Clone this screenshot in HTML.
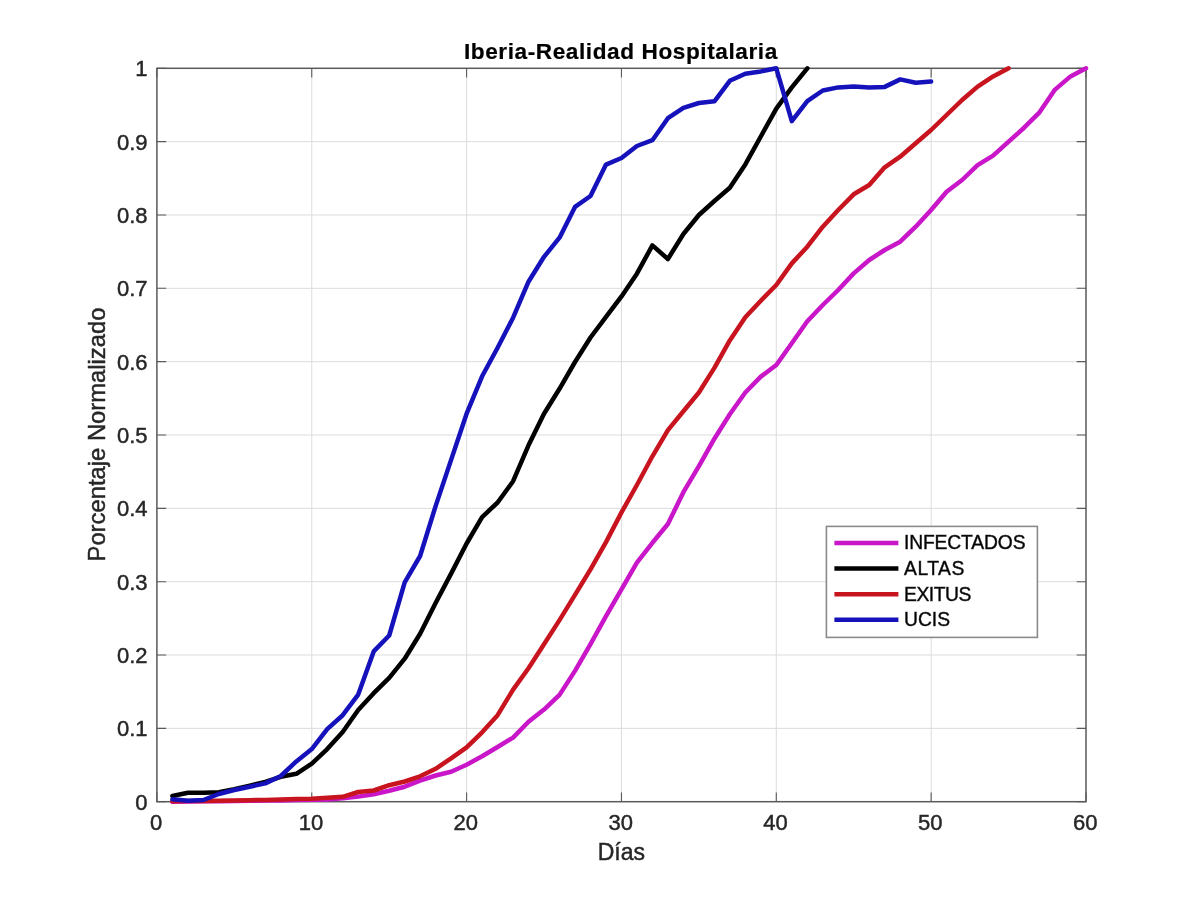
<!DOCTYPE html>
<html><head><meta charset="utf-8"><style>
html,body{margin:0;padding:0;background:#fff;}
body{width:1200px;height:899px;overflow:hidden;}
svg{display:block;will-change:transform;}
text{font-family:"Liberation Sans",sans-serif;fill:#262626;stroke:#262626;stroke-width:0.45px;}
</style></head><body>
<svg width="1200" height="899" viewBox="0 0 1200 899">
<rect x="0" y="0" width="1200" height="899" fill="#fff"/>
<path d="M311.75 68.30V801.70M466.60 68.30V801.70M621.45 68.30V801.70M776.30 68.30V801.70M931.15 68.30V801.70M156.90 728.36H1086.00M156.90 655.02H1086.00M156.90 581.68H1086.00M156.90 508.34H1086.00M156.90 435.00H1086.00M156.90 361.66H1086.00M156.90 288.32H1086.00M156.90 214.98H1086.00M156.90 141.64H1086.00" stroke="#dcdcdc" stroke-width="1" fill="none"/>
<rect x="156.90" y="68.30" width="929.10" height="733.40" fill="none" stroke="#5a5a5a" stroke-width="1.5"/>
<path d="M156.90 801.70V792.40M156.90 68.30V77.60M311.75 801.70V792.40M311.75 68.30V77.60M466.60 801.70V792.40M466.60 68.30V77.60M621.45 801.70V792.40M621.45 68.30V77.60M776.30 801.70V792.40M776.30 68.30V77.60M931.15 801.70V792.40M931.15 68.30V77.60M1086.00 801.70V792.40M1086.00 68.30V77.60M156.90 801.70H166.20M1086.00 801.70H1076.70M156.90 728.36H166.20M1086.00 728.36H1076.70M156.90 655.02H166.20M1086.00 655.02H1076.70M156.90 581.68H166.20M1086.00 581.68H1076.70M156.90 508.34H166.20M1086.00 508.34H1076.70M156.90 435.00H166.20M1086.00 435.00H1076.70M156.90 361.66H166.20M1086.00 361.66H1076.70M156.90 288.32H166.20M1086.00 288.32H1076.70M156.90 214.98H166.20M1086.00 214.98H1076.70M156.90 141.64H166.20M1086.00 141.64H1076.70M156.90 68.30H166.20M1086.00 68.30H1076.70" stroke="#5a5a5a" stroke-width="1.1" fill="none"/>
<polyline points="172.4,801.7 187.9,801.5 203.4,801.3 218.8,801.2 234.3,801.0 249.8,800.8 265.3,800.6 280.8,800.4 296.3,800.1 311.8,799.8 327.2,799.5 342.7,798.3 358.2,796.6 373.7,794.2 389.2,790.8 404.7,786.7 420.1,780.7 435.6,775.5 451.1,771.8 466.6,764.7 482.1,756.3 497.6,747.0 513.1,737.6 528.5,721.8 544.0,709.6 559.5,694.9 575.0,670.9 590.5,644.2 606.0,616.1 621.5,589.4 636.9,562.6 652.4,542.8 667.9,524.0 683.4,492.2 698.9,466.2 714.4,438.7 729.8,414.2 745.3,392.5 760.8,376.6 776.3,365.0 791.8,343.3 807.3,321.3 822.8,305.0 838.2,290.0 853.7,273.4 869.2,260.0 884.7,250.0 900.2,241.7 915.7,226.7 931.1,210.0 946.6,191.7 962.1,180.0 977.6,165.1 993.1,155.6 1008.6,141.6 1024.1,127.7 1039.5,112.3 1055.0,89.6 1070.5,76.4 1086.0,68.3" fill="none" stroke="#c816c8" stroke-width="4.5" stroke-linejoin="round" stroke-linecap="round"/>
<polyline points="172.4,796.0 187.9,792.7 203.4,792.7 218.8,792.2 234.3,789.2 249.8,785.6 265.3,781.9 280.8,776.8 296.3,773.8 311.8,763.6 327.2,749.1 342.7,732.0 358.2,710.0 373.7,693.2 389.2,677.8 404.7,658.7 420.1,633.8 435.6,602.9 451.1,573.6 466.6,543.5 482.1,517.1 497.6,502.5 513.1,481.2 528.5,445.3 544.0,413.7 559.5,388.8 575.0,362.0 590.5,337.5 606.0,316.9 621.5,296.4 636.9,273.7 652.4,245.4 667.9,259.0 683.4,234.0 698.9,215.0 714.4,201.0 729.8,187.8 745.3,164.4 760.8,136.5 776.3,108.6 791.8,87.4 807.3,68.3" fill="none" stroke="#000000" stroke-width="4.5" stroke-linejoin="round" stroke-linecap="round"/>
<polyline points="172.4,801.3 187.9,801.1 203.4,801.0 218.8,800.8 234.3,800.6 249.8,800.2 265.3,799.9 280.8,799.5 296.3,799.1 311.8,798.8 327.2,797.7 342.7,796.8 358.2,792.0 373.7,790.5 389.2,785.2 404.7,781.5 420.1,776.3 435.6,768.8 451.1,758.3 466.6,747.3 482.1,732.3 497.6,715.2 513.1,689.6 528.5,668.2 544.0,644.2 559.5,620.1 575.0,594.9 590.5,569.4 606.0,542.1 621.5,512.4 636.9,485.0 652.4,456.3 667.9,430.1 683.4,411.3 698.9,392.5 714.4,367.9 729.8,340.4 745.3,317.3 760.8,300.8 776.3,285.0 791.8,263.4 807.3,246.7 822.8,226.7 838.2,210.0 853.7,194.3 869.2,185.0 884.7,167.3 900.2,156.7 915.7,143.3 931.1,130.0 946.6,115.0 962.1,100.0 977.6,86.6 993.1,76.4 1008.6,68.3" fill="none" stroke="#c8141e" stroke-width="4.5" stroke-linejoin="round" stroke-linecap="round"/>
<polyline points="172.4,799.3 187.9,800.7 203.4,800.0 218.8,794.0 234.3,790.0 249.8,786.7 265.3,783.4 280.8,776.0 296.3,761.4 311.8,749.1 327.2,729.1 342.7,715.2 358.2,694.6 373.7,651.4 389.2,635.5 404.7,582.4 420.1,556.0 435.6,506.1 451.1,459.9 466.6,413.7 482.1,376.3 497.6,347.7 513.1,317.7 528.5,281.7 544.0,256.8 559.5,237.7 575.0,206.9 590.5,196.0 606.0,164.6 621.5,158.0 636.9,146.0 652.4,140.2 667.9,118.2 683.4,107.9 698.9,103.0 714.4,101.3 729.8,80.8 745.3,73.7 760.8,71.4 776.3,68.3 791.8,121.1 807.3,101.1 822.8,90.5 838.2,87.4 853.7,86.6 869.2,87.6 884.7,86.9 900.2,79.4 915.7,82.7 931.1,81.5" fill="none" stroke="#1512bb" stroke-width="4.5" stroke-linejoin="round" stroke-linecap="round"/>
<text x="156.10" y="830.4" font-size="22" text-anchor="middle">0</text>
<text x="310.95" y="830.4" font-size="22" text-anchor="middle">10</text>
<text x="465.80" y="830.4" font-size="22" text-anchor="middle">20</text>
<text x="620.65" y="830.4" font-size="22" text-anchor="middle">30</text>
<text x="775.50" y="830.4" font-size="22" text-anchor="middle">40</text>
<text x="930.35" y="830.4" font-size="22" text-anchor="middle">50</text>
<text x="1085.20" y="830.4" font-size="22" text-anchor="middle">60</text>
<text x="147.6" y="809.70" font-size="22" text-anchor="end">0</text>
<text x="147.6" y="736.36" font-size="22" text-anchor="end">0.1</text>
<text x="147.6" y="663.02" font-size="22" text-anchor="end">0.2</text>
<text x="147.6" y="589.68" font-size="22" text-anchor="end">0.3</text>
<text x="147.6" y="516.34" font-size="22" text-anchor="end">0.4</text>
<text x="147.6" y="443.00" font-size="22" text-anchor="end">0.5</text>
<text x="147.6" y="369.66" font-size="22" text-anchor="end">0.6</text>
<text x="147.6" y="296.32" font-size="22" text-anchor="end">0.7</text>
<text x="147.6" y="222.98" font-size="22" text-anchor="end">0.8</text>
<text x="147.6" y="149.64" font-size="22" text-anchor="end">0.9</text>
<text x="147.6" y="76.30" font-size="22" text-anchor="end">1</text>
<text x="621.4" y="859.6" font-size="23" text-anchor="middle">D&#237;as</text>
<text transform="translate(104.6 434.5) rotate(-90)" x="0" y="0" font-size="23.8" text-anchor="middle">Porcentaje Normalizado</text>
<text x="620.6" y="59.2" font-size="22.6" font-weight="bold" text-anchor="middle" textLength="313.4" lengthAdjust="spacing" style="fill:#000;stroke:#000;stroke-width:0.2px">Iberia-Realidad Hospitalaria</text>
<rect x="826.4" y="526.4" width="211" height="111" fill="#fff" stroke="#8a8a8a" stroke-width="1.6"/>
<line x1="834.4" y1="543.0" x2="898.4" y2="543.0" stroke="#c816c8" stroke-width="4.5"/>
<text x="904.0" y="549.4" font-size="19.3" textLength="121.5" lengthAdjust="spacing" style="fill:#000">INFECTADOS</text>
<line x1="834.4" y1="568.6" x2="898.4" y2="568.6" stroke="#000000" stroke-width="4.5"/>
<text x="904.0" y="575.0" font-size="19.3" textLength="60.4" lengthAdjust="spacing" style="fill:#000">ALTAS</text>
<line x1="834.4" y1="594.3" x2="898.4" y2="594.3" stroke="#c8141e" stroke-width="4.5"/>
<text x="904.0" y="600.7" font-size="19.3" textLength="67.4" lengthAdjust="spacing" style="fill:#000">EXITUS</text>
<line x1="834.4" y1="619.8" x2="898.4" y2="619.8" stroke="#1512bb" stroke-width="4.5"/>
<text x="904.0" y="626.2" font-size="19.3" textLength="46.1" lengthAdjust="spacing" style="fill:#000">UCIS</text>
</svg>
</body></html>
